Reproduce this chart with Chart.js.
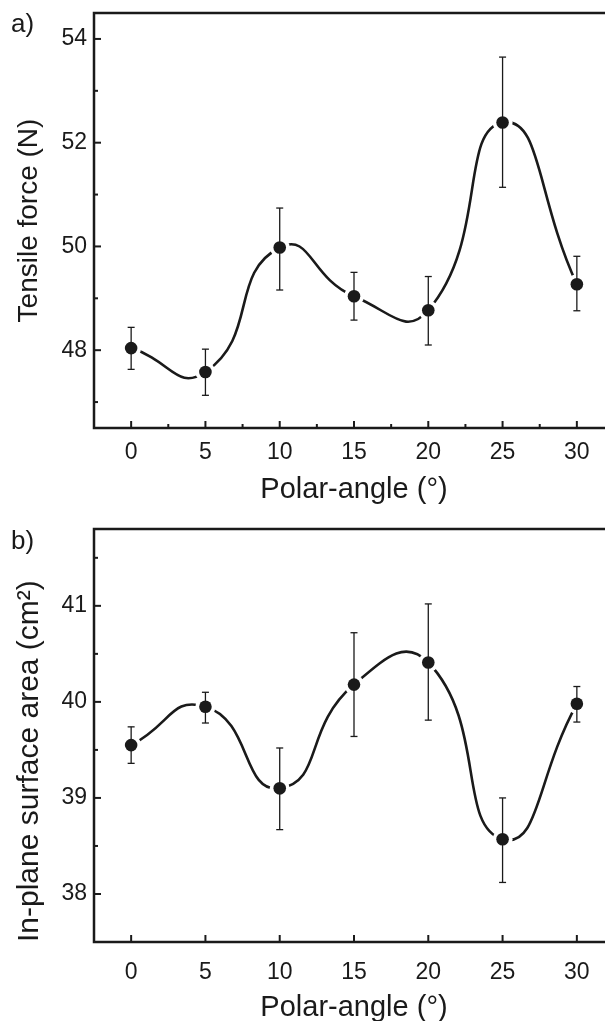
<!DOCTYPE html>
<html>
<head>
<meta charset="utf-8">
<script src="https://cdn.jsdelivr.net/npm/chart.js@4.4.1/dist/chart.umd.min.js"></script>
<style>
  html, body { margin: 0; padding: 0; background: #fff; }
  body { width: 605px; height: 1021px; overflow: hidden; position: relative; }
  canvas { position: absolute; left: 0; }
  #c1 { top: 0; }
  #c2 { top: 500px; }
  .panel { position: absolute; left: 11px; font: 26px "Liberation Sans", Arial, sans-serif; line-height: 26px; color: #1a1a1a; }
</style>
</head>
<body>
<canvas id="c1" width="620" height="520"></canvas>
<canvas id="c2" width="620" height="540"></canvas>
<div class="panel" style="top:10px">a)</div>
<div class="panel" style="top:527px">b)</div>
<script>
// ---------------- data ----------------
const polarAngles = [0, 5, 10, 15, 20, 25, 30];

const forceMean    = [48.04, 47.58, 49.98, 49.04, 48.77, 52.39, 49.27];
const forceErrHigh = [48.44, 48.02, 50.74, 49.50, 49.42, 53.65, 49.81];
const forceErrLow  = [47.63, 47.13, 49.16, 48.58, 48.10, 51.14, 48.76];

const areaMean    = [39.55, 39.95, 39.10, 40.18, 40.41, 38.57, 39.98];
const areaErrHigh = [39.74, 40.10, 39.52, 40.72, 41.02, 39.00, 40.16];
const areaErrLow  = [39.36, 39.78, 38.67, 39.64, 39.81, 38.12, 39.79];

const xTickValues      = [0, 5, 10, 15, 20, 25, 30];
const xMinorTickValues = [2.5, 7.5, 12.5, 17.5, 22.5, 27.5];
const forceTickValues      = [48, 50, 52, 54];
const forceMinorTickValues = [47, 49, 51, 53];
const areaTickValues      = [38, 39, 40, 41];
const areaMinorTickValues = [38.5, 39.5, 40.5, 41.5];

const xTitle = 'Polar-angle (°)';
const forceTitle = 'Tensile force (N)';
const areaTitle = 'In-plane surface area (cm²)';

// ---------------- drawing ----------------
const INK = '#1a1a1a';
const FONT = '"Liberation Sans", Arial, sans-serif';

const framePlugin = {
  id: 'frame',
  afterDraw(chart, args, opts) {
    const { ctx, chartArea: a, scales: { x, y } } = chart;
    ctx.save();
    ctx.strokeStyle = INK;
    ctx.lineWidth = 2.5;
    ctx.lineCap = 'butt';
    ctx.strokeRect(a.left, a.top, a.right - a.left, a.bottom - a.top);
    ctx.lineWidth = 2;
    const tick = (vals, len, isX) => {
      vals.forEach(v => {
        ctx.beginPath();
        if (isX) {
          const px = x.getPixelForValue(v);
          ctx.moveTo(px, a.bottom); ctx.lineTo(px, a.bottom - len);
        } else {
          const py = y.getPixelForValue(v);
          ctx.moveTo(a.left, py); ctx.lineTo(a.left + len, py);
        }
        ctx.stroke();
      });
    };
    tick(opts.xMajor || [], 7, true);
    tick(opts.xMinor || [], 4, true);
    tick(opts.yMajor || [], 7, false);
    tick(opts.yMinor || [], 4, false);
    ctx.restore();
  }
};

function buildDatasets(mean, hi, lo) {
  const pts = polarAngles.map((x, i) => ({ x, y: mean[i] }));
  const ds = [];
  ds.push({ data: pts, showLine: false, pointRadius: 6.3, pointHoverRadius: 6.3,
            pointBackgroundColor: INK, pointBorderWidth: 0, order: 1 });
  polarAngles.forEach((x, i) => {
    ds.push({ data: [{ x, y: lo[i] }, { x, y: hi[i] }], showLine: true,
              borderColor: INK, borderWidth: 1.3, pointStyle: 'line',
              pointRadius: 3.5, pointHoverRadius: 3.5, pointBorderColor: INK,
              pointBorderWidth: 1.3, order: 5 });
  });
  ds.push({ data: pts, showLine: false, pointRadius: 10, pointHoverRadius: 10,
            pointBackgroundColor: '#ffffff', pointBorderWidth: 0, order: 9 });
  ds.push({ data: pts, showLine: true, borderColor: INK, borderWidth: 2.6,
            tension: 0.55, pointRadius: 0, pointHoverRadius: 0, order: 10 });
  return ds;
}

function makeChart(id, cfg) {
  return new Chart(document.getElementById(id), {
    type: 'scatter',
    data: { datasets: buildDatasets(cfg.mean, cfg.hi, cfg.lo) },
    options: {
      responsive: false, animation: false, devicePixelRatio: 1,
      events: [],
      layout: { autoPadding: false, padding: { top: cfg.padTop, right: 6, left: 0, bottom: 0 } },
      plugins: {
        legend: { display: false }, tooltip: { enabled: false },
        frame: { xMajor: xTickValues, xMinor: cfg.xMinor, yMajor: cfg.yTicks, yMinor: cfg.yMinor }
      },
      scales: {
        x: {
          type: 'linear', min: -2.5, max: 32.5,
          afterBuildTicks: s => { s.ticks = xTickValues.map(v => ({ value: v })); },
          afterFit: s => { s.height = cfg.xHeight; s.paddingLeft = 0; s.paddingRight = 0; },
          grid: { display: false, drawTicks: false }, border: { display: false },
          ticks: { color: INK, font: { family: FONT, size: 23 }, padding: cfg.xTickPad, maxRotation: 0, autoSkip: false },
          title: { display: true, text: xTitle, color: INK, font: { family: FONT, size: 29 },
                   padding: { top: 0, bottom: cfg.xTitlePad } }
        },
        y: {
          type: 'linear', min: cfg.yMin, max: cfg.yMax,
          afterBuildTicks: s => { s.ticks = cfg.yTicks.map(v => ({ value: v })); },
          afterFit: s => { s.width = 94; s.paddingTop = 0; s.paddingBottom = 0; },
          grid: { display: false, drawTicks: false }, border: { display: false },
          ticks: { color: INK, font: { family: FONT, size: 23 }, padding: 7 },
          title: { display: true, text: cfg.yTitle, color: INK, align: cfg.yTitleAlign,
                   font: { family: FONT, size: cfg.yTitleSize },
                   padding: { top: 12, bottom: 0 } }
        }
      }
    },
    plugins: [framePlugin]
  });
}

makeChart('c1', {
  mean: forceMean, hi: forceErrHigh, lo: forceErrLow,
  yMin: 46.5, yMax: 54.5, yTicks: forceTickValues, yMinor: forceMinorTickValues,
  xMinor: xMinorTickValues, yTitle: forceTitle, yTitleAlign: 'center', yTitleSize: 28,
  padTop: 13, xHeight: 92, xTickPad: 11, xTitlePad: 13
});

makeChart('c2', {
  mean: areaMean, hi: areaErrHigh, lo: areaErrLow,
  yMin: 37.5, yMax: 41.8, yTicks: areaTickValues, yMinor: areaMinorTickValues,
  xMinor: [], yTitle: areaTitle, yTitleAlign: 'start', yTitleSize: 30,
  padTop: 29, xHeight: 98, xTickPad: 17, xTitlePad: 15
});
</script>
</body>
</html>
